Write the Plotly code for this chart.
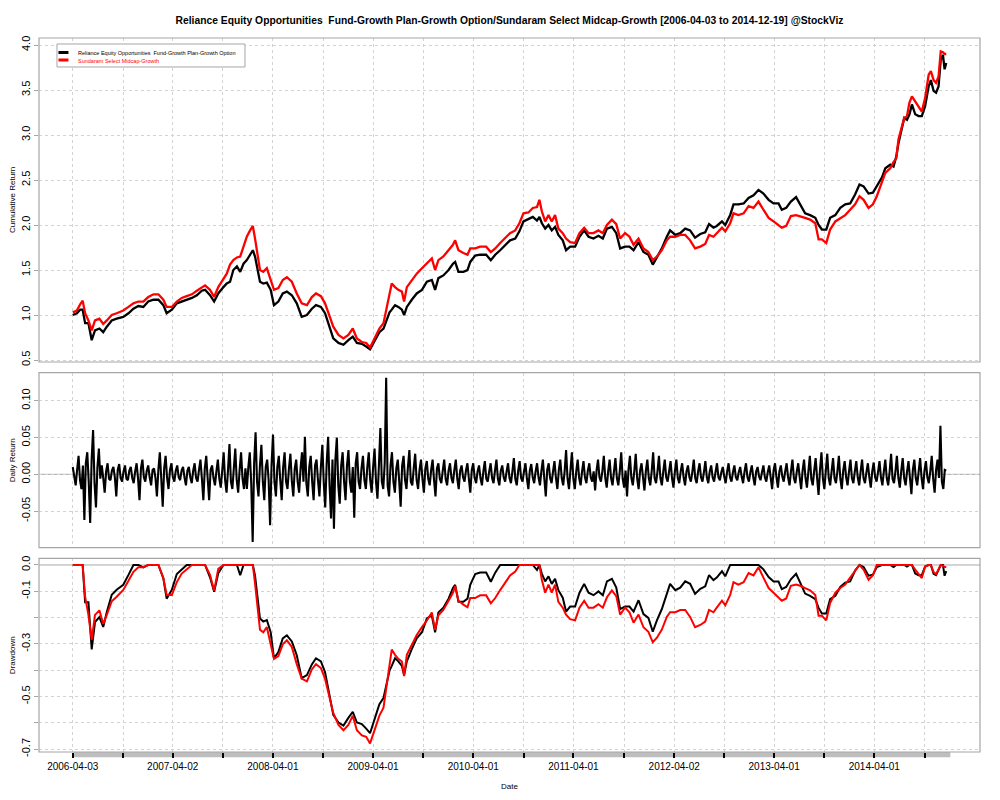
import numpy as np
import pandas as pd
import plotly.graph_objects as go

# ---------------- data ----------------
start_date = "2006-04-03"
end_date = "2014-12-19"

# observation dates, as days after 2006-04-03
day_offsets = [
    0, 15, 27, 36, 45, 57, 69, 81, 97, 111, 124, 142, 160, 184, 203, 221, 239, 257, 275, 294,
    312, 330, 342, 361, 379, 397, 415, 434, 452, 470, 482, 500, 515, 530, 549, 561, 573, 585, 598, 610,
    622, 634, 646, 656, 664, 673, 682, 694, 707, 721, 733, 749, 765, 780, 798, 816, 834, 853, 871, 886,
    904, 919, 935, 949, 968, 986, 1004, 1020, 1035, 1053, 1069, 1083, 1101, 1117, 1132, 1144, 1154, 1162, 1174, 1186,
    1199, 1207, 1217, 1235, 1253, 1272, 1290, 1308, 1320, 1332, 1350, 1369, 1385, 1393, 1405, 1423, 1438, 1448, 1466, 1484,
    1506, 1523, 1539, 1557, 1575, 1593, 1612, 1627, 1642, 1660, 1676, 1691, 1700, 1709, 1721, 1733, 1745, 1757, 1769, 1785,
    1797, 1812, 1830, 1846, 1863, 1879, 1897, 1915, 1931, 1946, 1964, 1980, 1994, 2012, 2028, 2043, 2061, 2079, 2097, 2113,
    2128, 2146, 2164, 2176, 2195, 2213, 2231, 2249, 2267, 2286, 2304, 2318, 2334, 2346, 2365, 2377, 2395, 2407, 2425, 2444,
    2462, 2480, 2498, 2516, 2535, 2553, 2571, 2583, 2599, 2616, 2635, 2650, 2668, 2686, 2705, 2717, 2729, 2745, 2759, 2778,
    2796, 2814, 2832, 2850, 2866, 2881, 2899, 2915, 2929, 2948, 2960, 2978, 2990, 3000, 3008, 3020, 3029, 3039, 3048, 3057,
    3069, 3081, 3093, 3105, 3118, 3126, 3136, 3145, 3154, 3162, 3170, 3176, 3182,
]

reliance_cum = [
    1.00, 1.02, 1.06, 1.06, 0.91, 0.91, 0.72, 0.83, 0.85, 0.81, 0.87, 0.94, 0.96, 0.98, 1.02, 1.07, 1.10, 1.09, 1.15, 1.17,
    1.17, 1.11, 1.02, 1.06, 1.13, 1.15, 1.17, 1.19, 1.22, 1.27, 1.28, 1.22, 1.15, 1.24, 1.31, 1.35, 1.37, 1.50, 1.54, 1.48,
    1.57, 1.61, 1.67, 1.72, 1.65, 1.50, 1.37, 1.35, 1.36, 1.28, 1.11, 1.15, 1.24, 1.26, 1.22, 1.13, 0.98, 1.00, 1.07, 1.11,
    1.09, 1.02, 0.87, 0.74, 0.69, 0.67, 0.72, 0.76, 0.69, 0.68, 0.65, 0.62, 0.72, 0.81, 0.85, 0.96, 1.03, 1.06, 1.11, 1.09,
    1.06, 1.00, 1.09, 1.17, 1.24, 1.28, 1.37, 1.39, 1.28, 1.41, 1.44, 1.50, 1.57, 1.59, 1.48, 1.48, 1.50, 1.59, 1.66, 1.67,
    1.67, 1.61, 1.67, 1.72, 1.78, 1.83, 1.85, 1.93, 2.04, 2.07, 2.09, 2.05, 2.09, 2.02, 1.96, 2.00, 1.94, 1.98, 1.89, 1.83,
    1.72, 1.76, 1.76, 1.87, 1.94, 1.87, 1.85, 1.88, 1.85, 1.96, 1.98, 1.91, 1.74, 1.76, 1.76, 1.72, 1.81, 1.70, 1.67, 1.56,
    1.65, 1.74, 1.87, 1.94, 1.89, 1.91, 1.96, 1.94, 1.86, 1.90, 1.92, 2.01, 1.97, 1.99, 2.04, 2.00, 2.11, 2.23, 2.23, 2.24,
    2.30, 2.33, 2.39, 2.35, 2.28, 2.24, 2.24, 2.17, 2.19, 2.26, 2.31, 2.23, 2.13, 2.11, 2.08, 2.00, 1.95, 1.95, 2.08, 2.11,
    2.19, 2.23, 2.24, 2.34, 2.45, 2.43, 2.35, 2.36, 2.43, 2.53, 2.63, 2.67, 2.65, 2.76, 2.91, 3.06, 3.19, 3.17, 3.23, 3.34,
    3.23, 3.21, 3.21, 3.32, 3.54, 3.61, 3.49, 3.47, 3.54, 3.84, 3.89, 3.73, 3.80,
]

sundaram_cum = [
    1.03, 1.05, 1.12, 1.16, 1.02, 0.94, 0.83, 0.94, 0.96, 0.90, 0.94, 1.00, 1.02, 1.05, 1.09, 1.13, 1.15, 1.15, 1.20, 1.23,
    1.23, 1.17, 1.09, 1.09, 1.15, 1.19, 1.21, 1.23, 1.27, 1.31, 1.33, 1.28, 1.20, 1.31, 1.41, 1.46, 1.56, 1.61, 1.64, 1.65,
    1.76, 1.87, 1.94, 1.99, 1.85, 1.65, 1.50, 1.48, 1.52, 1.39, 1.28, 1.30, 1.39, 1.42, 1.37, 1.24, 1.13, 1.11, 1.20, 1.24,
    1.21, 1.13, 0.98, 0.87, 0.78, 0.74, 0.78, 0.85, 0.74, 0.70, 0.69, 0.64, 0.75, 0.85, 0.91, 1.10, 1.26, 1.35, 1.31, 1.28,
    1.26, 1.15, 1.31, 1.39, 1.46, 1.52, 1.57, 1.63, 1.50, 1.61, 1.65, 1.72, 1.78, 1.83, 1.72, 1.69, 1.67, 1.74, 1.74, 1.76,
    1.76, 1.70, 1.74, 1.80, 1.86, 1.91, 1.94, 2.02, 2.13, 2.14, 2.19, 2.20, 2.28, 2.15, 2.04, 2.11, 2.04, 2.11, 1.96, 1.91,
    1.85, 1.81, 1.80, 1.91, 1.97, 1.91, 1.91, 1.94, 1.91, 2.00, 2.06, 2.01, 1.85, 1.91, 1.87, 1.78, 1.85, 1.74, 1.70, 1.61,
    1.65, 1.72, 1.83, 1.87, 1.87, 1.89, 1.89, 1.83, 1.74, 1.76, 1.79, 1.89, 1.87, 1.91, 1.97, 1.93, 2.02, 2.13, 2.11, 2.13,
    2.21, 2.19, 2.26, 2.17, 2.08, 2.04, 2.00, 1.97, 1.99, 2.10, 2.11, 2.10, 2.08, 2.06, 2.02, 1.84, 1.84, 1.80, 1.95, 2.04,
    2.08, 2.11, 2.17, 2.23, 2.32, 2.28, 2.19, 2.23, 2.32, 2.47, 2.58, 2.63, 2.70, 2.74, 2.95, 3.09, 3.19, 3.21, 3.36, 3.43,
    3.37, 3.32, 3.26, 3.41, 3.67, 3.71, 3.61, 3.58, 3.65, 3.93, 3.92, 3.90, 3.90,
]

# daily returns of the Reliance fund (evenly spaced samples over the period)
reliance_daily = [
    0.010, -0.004, -0.015, 0.006, 0.025, -0.008, -0.020, 0.012, -0.062, 0.015, 0.030, -0.010, -0.066, 0.020, 0.060, -0.012, -0.045, 0.010, 0.035, -0.006,
    0.012, -0.005, -0.025, 0.004, 0.015, -0.006, -0.008, 0.005, 0.010, -0.004, -0.030, 0.006, 0.014, -0.005, -0.010, 0.004, 0.012, -0.006, -0.008, 0.005,
    0.010, -0.005, -0.012, 0.004, 0.015, -0.006, -0.035, 0.008, 0.020, -0.004, -0.010, 0.005, 0.012, -0.004, -0.015, 0.006, 0.008, -0.005, -0.030, 0.006,
    0.030, -0.006, -0.044, 0.008, 0.025, -0.005, -0.020, 0.006, 0.015, -0.004, -0.010, 0.005, 0.012, -0.004, -0.008, 0.005, 0.010, -0.004, -0.015, 0.005,
    0.010, -0.004, -0.012, 0.005, 0.015, -0.005, -0.010, 0.006, 0.020, -0.006, -0.035, 0.008, 0.025, -0.006, -0.035, 0.006, 0.012, -0.005, -0.015, 0.004,
    0.020, -0.006, -0.018, 0.005, 0.030, -0.008, -0.025, 0.006, 0.041, -0.010, -0.020, 0.008, 0.035, -0.008, -0.025, 0.006, 0.030, -0.006, -0.020, 0.008,
    -0.020, 0.010, 0.030, -0.012, -0.092, 0.015, 0.057, -0.010, -0.030, 0.012, 0.040, -0.010, -0.035, 0.010, 0.020, -0.008, -0.069, 0.012, 0.054, -0.010,
    -0.030, 0.010, 0.025, -0.008, -0.035, 0.010, 0.030, -0.010, -0.020, 0.008, 0.028, -0.010, -0.030, 0.008, 0.020, -0.010, -0.025, 0.008, 0.030, -0.010,
    0.051, -0.012, -0.030, 0.010, 0.025, -0.010, -0.035, 0.012, 0.020, -0.008, -0.030, 0.010, 0.040, -0.012, -0.045, 0.015, 0.051, -0.015, -0.060, 0.020,
    -0.074, 0.020, 0.050, -0.015, -0.040, 0.012, 0.030, -0.010, -0.035, 0.012, 0.033, -0.010, -0.025, 0.010, -0.059, 0.015, 0.030, -0.010, -0.020, 0.008,
    0.025, -0.008, -0.020, 0.010, 0.030, -0.008, -0.025, 0.010, 0.035, -0.010, -0.033, 0.012, 0.063, -0.010, -0.020, 0.015, 0.131, -0.015, -0.030, 0.012,
    0.030, -0.010, -0.025, 0.008, 0.020, -0.010, -0.044, 0.012, 0.025, -0.008, -0.020, 0.010, 0.033, -0.010, -0.015, 0.008, 0.028, -0.008, -0.020, 0.006,
    0.020, -0.006, -0.025, 0.008, 0.018, -0.006, -0.015, 0.006, 0.020, -0.008, -0.030, 0.008, 0.015, -0.006, -0.012, 0.005, 0.020, -0.006, -0.015, 0.005,
    0.015, -0.005, -0.012, 0.006, 0.020, -0.006, -0.020, 0.005, 0.012, -0.004, -0.010, 0.005, 0.015, -0.006, -0.025, 0.006, 0.015, -0.005, -0.012, 0.004,
    0.012, -0.005, -0.015, 0.004, 0.018, -0.006, -0.010, 0.004, 0.015, -0.005, -0.012, 0.005, 0.020, -0.006, -0.015, 0.005, 0.012, -0.004, -0.010, 0.004,
    0.015, -0.005, -0.012, 0.004, 0.022, -0.006, -0.015, 0.005, 0.018, -0.005, -0.010, 0.004, 0.015, -0.006, -0.020, 0.005, 0.014, -0.004, -0.012, 0.004,
    0.015, -0.004, -0.015, 0.005, 0.020, -0.006, -0.030, 0.006, 0.015, -0.005, -0.012, 0.004, 0.018, -0.005, -0.020, 0.006, 0.020, -0.005, -0.015, 0.004,
    0.033, -0.006, -0.020, 0.005, 0.030, -0.006, -0.020, 0.004, 0.020, -0.005, -0.015, 0.004, 0.018, -0.004, -0.012, 0.005, 0.015, -0.004, -0.010, 0.004,
    -0.022, 0.005, 0.020, -0.004, -0.010, 0.004, 0.025, -0.005, -0.018, 0.004, 0.020, -0.005, -0.015, 0.004, 0.022, -0.005, -0.015, 0.004, 0.030, -0.006,
    -0.018, 0.005, -0.030, 0.006, 0.025, -0.005, -0.015, 0.004, 0.028, -0.006, -0.020, 0.005, 0.015, -0.004, -0.022, 0.005, 0.020, -0.005, -0.015, 0.004,
    0.030, -0.005, -0.012, 0.004, 0.025, -0.005, -0.015, 0.004, 0.020, -0.004, -0.010, 0.004, 0.018, -0.005, -0.018, 0.004, 0.020, -0.005, -0.012, 0.004,
    0.015, -0.004, -0.015, 0.004, 0.012, -0.004, -0.010, 0.003, 0.020, -0.005, -0.012, 0.004, 0.015, -0.004, -0.010, 0.003, 0.018, -0.004, -0.012, 0.004,
    0.012, -0.004, -0.010, 0.003, 0.015, -0.004, -0.008, 0.003, 0.010, -0.003, -0.012, 0.004, 0.015, -0.004, -0.010, 0.003, 0.012, -0.004, -0.008, 0.003,
    0.010, -0.003, -0.012, 0.004, 0.015, -0.004, -0.010, 0.003, 0.012, -0.004, -0.015, 0.004, 0.010, -0.003, -0.008, 0.003, 0.012, -0.004, -0.010, 0.003,
    0.012, -0.004, -0.020, 0.005, 0.015, -0.004, -0.018, 0.004, 0.012, -0.003, -0.010, 0.004, 0.015, -0.004, -0.015, 0.004, 0.020, -0.005, -0.012, 0.004,
    0.015, -0.004, -0.020, 0.005, 0.020, -0.005, -0.018, 0.004, 0.025, -0.006, -0.015, 0.005, 0.022, -0.005, -0.028, 0.006, 0.030, -0.006, -0.020, 0.005,
    0.028, -0.005, -0.015, 0.004, 0.022, -0.005, -0.012, 0.004, 0.025, -0.006, -0.020, 0.005, 0.018, -0.004, -0.015, 0.004, 0.020, -0.005, -0.012, 0.004,
    0.018, -0.004, -0.015, 0.004, 0.020, -0.005, -0.012, 0.003, 0.015, -0.004, -0.018, 0.004, 0.016, -0.004, -0.010, 0.003, 0.018, -0.004, -0.015, 0.004,
    0.020, -0.005, -0.015, 0.004, 0.028, -0.006, -0.012, 0.004, 0.025, -0.005, -0.018, 0.005, 0.022, -0.005, -0.015, 0.004, 0.018, -0.005, -0.027, 0.006,
    0.020, -0.005, -0.015, 0.004, 0.022, -0.005, -0.020, 0.005, 0.018, -0.004, -0.012, 0.004, 0.025, -0.006, -0.025, 0.006, 0.020, -0.005, 0.066, -0.010,
    -0.020, 0.006, 0.005,
]

tick_dates = [
    "2006-04-03", "2006-10-03", "2007-04-02", "2007-10-01", "2008-04-01", "2008-10-01",
    "2009-04-01", "2009-10-01", "2010-04-01", "2010-10-01", "2011-04-01", "2011-10-03",
    "2012-04-02", "2012-10-01", "2013-04-01", "2013-10-01", "2014-04-01", "2014-10-01",
]
tick_labels = [d if d[5:7] == "04" else "" for d in tick_dates]

name_reliance = "Reliance Equity Opportunities  Fund-Growth Plan-Growth Option"
name_sundaram = "Sundaram Select Midcap-Growth"
title_text = ("Reliance Equity Opportunities  Fund-Growth Plan-Growth Option/"
              "Sundaram Select Midcap-Growth [2006-04-03 to 2014-12-19] @StockViz")

# ---------------- derived series ----------------
t0 = pd.Timestamp(start_date)
t1 = pd.Timestamp(end_date)
dates = t0 + pd.to_timedelta(day_offsets, unit="D")
daily_dates = pd.date_range(t0, t1, periods=len(reliance_daily))
rel = np.array(reliance_cum)
sun = np.array(sundaram_cum)
rel_dd = rel / np.maximum.accumulate(rel) - 1
sun_dd = sun / np.maximum.accumulate(sun) - 1

# ---------------- figure ----------------
FONT = "Liberation Sans, Arial, Helvetica, sans-serif"
GRID = "#D3D3D3"
BOX = "#A6A6A6"

fig = go.Figure()
fig.add_trace(go.Scatter(x=dates, y=rel, mode="lines", name=name_reliance,
                         line=dict(color="black", width=2.3), xaxis="x", yaxis="y"))
fig.add_trace(go.Scatter(x=dates, y=sun, mode="lines", name=name_sundaram,
                         line=dict(color="red", width=2.3), xaxis="x", yaxis="y"))
fig.add_trace(go.Scatter(x=daily_dates, y=reliance_daily, mode="lines", name=name_reliance,
                         line=dict(color="black", width=2.1), xaxis="x", yaxis="y2"))
fig.add_trace(go.Scatter(x=dates, y=rel_dd, mode="lines", name=name_reliance,
                         line=dict(color="black", width=2), xaxis="x", yaxis="y3"))
fig.add_trace(go.Scatter(x=dates, y=sun_dd, mode="lines", name=name_sundaram,
                         line=dict(color="red", width=2), xaxis="x", yaxis="y3"))

pad = pd.Timedelta(days=123)
xr0, xr1 = t0 - pad, t1 + pad

yax_common = dict(showgrid=True, gridcolor=GRID, griddash="3px,3px", gridwidth=1,
                  tickangle=-90, ticks="outside", ticklen=4, tickcolor=BOX,
                  tickfont=dict(family=FONT, size=11, color="black"),
                  showline=False, zeroline=False, anchor="x")

fig.update_layout(
    width=1000, height=800,
    margin=dict(l=39, r=20, t=38, b=48),
    paper_bgcolor="white", plot_bgcolor="white",
    font=dict(family=FONT, color="black"),
    title=dict(text="<b>" + title_text + "</b>", x=0.5, xref="paper",
               y=1 - 20 / 800, yanchor="middle", font=dict(size=10.3, family=FONT)),
    showlegend=False,
    xaxis=dict(type="date", range=[xr0, xr1], anchor="y3",
               tickvals=tick_dates, ticktext=tick_labels,
               ticks="outside", ticklen=5, tickwidth=1.5, tickcolor="black",
               tickfont=dict(family=FONT, size=10, color="black"),
               showgrid=True, gridcolor=GRID, griddash="3px,3px", gridwidth=1,
               zeroline=False, showline=False),
    yaxis=dict(domain=[0.5462, 1.0], range=[0.478, 4.078],
               tickvals=[0.5, 1.0, 1.5, 2.0, 2.5, 3.0, 3.5, 4.0],
               ticktext=["0.5", "1.0", "1.5", "2.0", "2.5", "3.0", "3.5", "4.0"],
               **yax_common),
    yaxis2=dict(domain=[0.2861, 0.5312], range=[-0.0997, 0.138],
                tickvals=[-0.10, -0.05, 0.0, 0.05, 0.10],
                ticktext=["-0.10", "-0.05", "0.00", "0.05", "0.10"],
                **yax_common),
    yaxis3=dict(domain=[0.0, 0.2713], range=[-0.711, 0.0254],
                tickvals=[0.0, -0.1, -0.2, -0.3, -0.4, -0.5, -0.6, -0.7],
                ticktext=["0.0", "-0.1", "", "-0.3", "", "-0.5", "", "-0.7"],
                **yax_common),
)

# zero reference lines (solid gray)
for yref in ["y2", "y3"]:
    fig.add_shape(type="line", xref="x domain", yref=yref, x0=0, x1=1, y0=0, y1=0,
                  line=dict(color=BOX, width=1), layer="below")

# panel frames
for yref in ["y domain", "y2 domain", "y3 domain"]:
    fig.add_shape(type="rect", xref="x domain", yref=yref, x0=0, x1=1, y0=0, y1=1,
                  line=dict(color=BOX, width=1.2), fillcolor="rgba(0,0,0,0)", layer="above")

# grey time band under the bottom panel (spanning the data period)
span = (xr1 - xr0)
bx0 = (t0 - xr0) / span
bx1 = (t1 + pd.Timedelta(days=15) - xr0) / span
fig.add_shape(type="rect", xref="x domain", yref="paper", x0=bx0, x1=bx1,
              y0=-0.0075, y1=0, fillcolor="#BEBEBE", line=dict(width=0), layer="below")

# legend box (top-left of the first panel), drawn in R style
fig.add_shape(type="rect", xref="paper", yref="paper", x0=0.0191, x1=0.2189,
              y0=0.9594, y1=0.9916, line=dict(color=BOX, width=1), fillcolor="white",
              layer="above")
for name, color, yl in [(name_reliance, "black", 0.9797), (name_sundaram, "red", 0.9692)]:
    fig.add_shape(type="line", xref="paper", yref="paper", x0=0.0207, x1=0.0313,
                  y0=yl, y1=yl, line=dict(color=color, width=3), layer="above")
    fig.add_annotation(text=name, xref="paper", yref="paper", x=0.0393, y=yl - 0.0010,
                       xanchor="left", yanchor="middle", showarrow=False,
                       font=dict(family=FONT, size=5.5, color=color))

# axis titles
ann_font = dict(family=FONT, size=8, color="black")
for txt, ymid in [("Cumulative Return", (0.5462 + 1.0) / 2),
                  ("Daily Return", (0.2861 + 0.5312) / 2),
                  ("Drawdown", 0.2713 / 2)]:
    fig.add_annotation(text=txt, xref="paper", yref="paper", x=-0.0287, y=ymid,
                       textangle=-90, showarrow=False, font=ann_font,
                       xanchor="center", yanchor="middle")
fig.add_annotation(text="Date", xref="paper", yref="paper", x=0.5, y=-34 / 714,
                   showarrow=False, font=ann_font, xanchor="center", yanchor="middle")

fig.write_html("out.html", config={"displayModeBar": False},
               post_script="document.body.style.margin='0';")
